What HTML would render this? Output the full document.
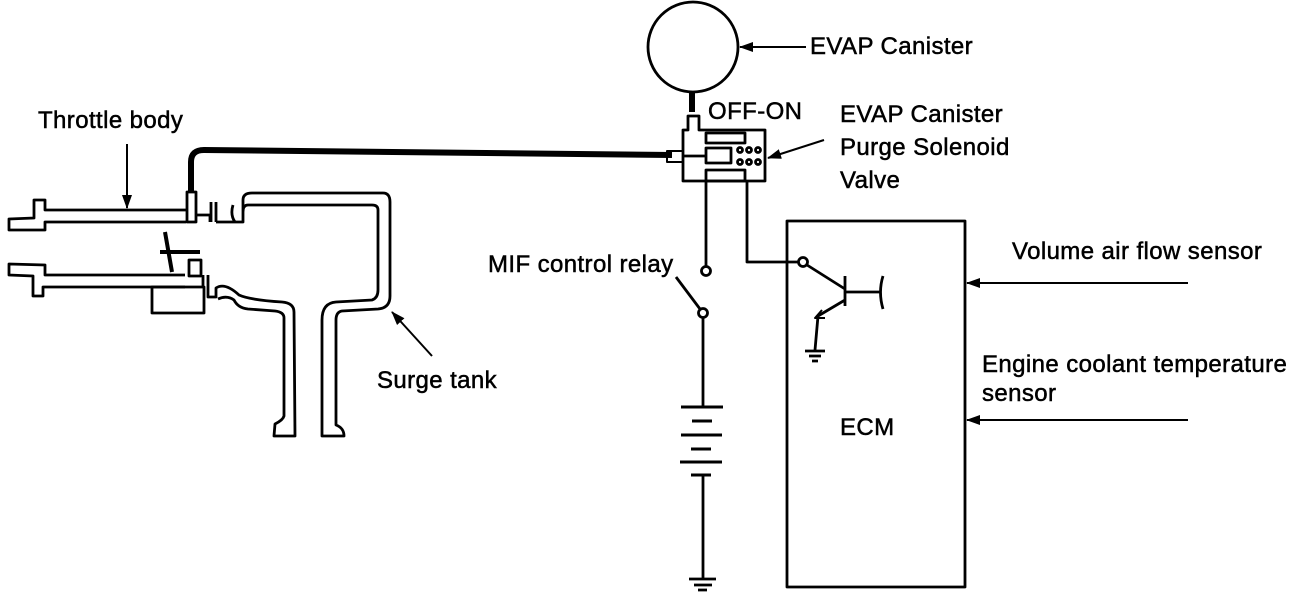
<!DOCTYPE html>
<html><head><style>
body{margin:0;background:#fff;}
svg{display:block;}
text{font-family:"Liberation Sans",sans-serif;font-size:24px;letter-spacing:0.4px;fill:#000;stroke:#000;stroke-width:0.5px;}
</style></head><body>
<svg width="1312" height="598" viewBox="0 0 1312 598" xmlns="http://www.w3.org/2000/svg">
<defs><marker id="a" markerWidth="14" markerHeight="12" refX="13" refY="6" orient="auto" markerUnits="userSpaceOnUse"><path d="M0,1 L14,6 L0,11 z" fill="#000"/></marker></defs>
<g fill="none" stroke="#000" stroke-width="2.8" stroke-linejoin="round">
<!-- upper throttle tube -->
<path d="M186,210 L45,210 L45,200 L34,200 L34,218 L9,219 L9,230 L45,230 L45,222 L186,222"/>
<!-- lower throttle tube -->
<path d="M185,275 L45,275 L45,265 L9,264 L9,275 L33,276 L33,296 L43,296 L43,287 L185,287"/>
<rect x="152" y="287" width="52" height="26"/>
<rect x="189" y="260" width="12" height="16"/>
<!-- throttle valve -->
<path d="M165,232 L172,272 M160,252 L200,252" stroke-width="4"/>
<!-- port for hose -->
<rect x="187" y="192" width="9" height="30"/>
<path d="M196,215 L210,215 L210,222 M211,202 L211,222 M216,202 L216,222"/>
<!-- surge tank -->
<path d="M216,222 L243,222 L243,200 Q243,193 252,193 L383,193 Q390,193 390,202 L390,296 Q390,308 378,309 L342,311 Q336,312 336,320 L336,425 Q344,428 344,436 L322,436 L322,320 Q322,303 336,302 L372,300 Q378,298 378,290 L378,210 Q378,205 372,205 L248,205 Q243,205 243,212 M235,222 Q230,215 233,205"/>
<path d="M203,287 L203,275 M208,275 L208,297 L216,297 L216,288 Q225,282 239,295 Q250,300 282,302 Q294,303 294,312 L295,436 L274,436 L275,424 Q283,420 284,416 L284,318 Q284,312 275,311 L248,309 Q238,308 234,300 Q227,295 218,299"/>
<!-- thick hose -->
<path d="M191,192 L191,162 Q191,150 204,150 L672,155" stroke-width="6"/>
<path d="M667,151 L683,151 L683,162 L667,162 z" stroke-width="2"/>
<!-- canister -->
<circle cx="693" cy="47" r="45"/>
<path d="M692,92 L692,112" stroke-width="6"/>
<!-- solenoid -->
<path d="M688,130 L688,116 L699,116 L699,130 L765,130 L765,181 L683,181 L683,130 z"/>
<rect x="706" y="133" width="39" height="10"/>
<rect x="706" y="170" width="39" height="11"/>
<rect x="706" y="148" width="25" height="15"/>
<path d="M683,156 L706,156"/>
<circle cx="740" cy="150" r="2.5"/><circle cx="749" cy="150" r="2.5"/><circle cx="758" cy="150" r="2.5"/>
<circle cx="740" cy="162" r="2.5"/><circle cx="749" cy="162" r="2.5"/><circle cx="758" cy="162" r="2.5"/>
<!-- relay wire -->
<path d="M706,181 L706,266"/>
<circle cx="706" cy="271" r="4.5"/>
<circle cx="703" cy="313" r="4.5"/>
<path d="M676,277 L700,309"/>
<path d="M703,318 L703,407"/>
<path d="M681,407 L723,407 M692,421 L712,421 M681,435 L722,435 M691,449 L711,449 M680,462 L722,462 M691,475 L711,475" stroke-width="3"/>
<path d="M703,475 L703,578"/>
<path d="M689,579 L716,579 M694,585 L712,585 M698,590 L707,590"/>
<!-- ECM wire -->
<path d="M747,181 L747,262 L798,262"/>
<circle cx="803" cy="262" r="4.5"/>
<path d="M807,265 L845,289 M845,276 L845,306 M845,292 L880,292 M883,276 Q878,292 883,309 M845,300 L818,316 L815,350" />
<path d="M822,310 L815,318 L825,318" stroke-width="2"/>
<path d="M805,351 L825,351 M809,356 L821,356 M812,361 L818,361"/>
<!-- ECM box -->
<rect x="787" y="221" width="178" height="366"/>
<!-- arrows -->
<path d="M127,144 L127,208" stroke-width="2" marker-end="url(#a)"/>
<path d="M806,47 L740,47" stroke-width="2" marker-end="url(#a)"/>
<path d="M824,140 L768,158" stroke-width="2" marker-end="url(#a)"/>
<path d="M432,356 L392,312" stroke-width="2" marker-end="url(#a)"/>
<path d="M1188,283 L967,283" stroke-width="2" marker-end="url(#a)"/>
<path d="M1188,420 L967,420" stroke-width="2" marker-end="url(#a)"/>
</g>
<text x="38" y="128">Throttle body</text>
<text x="810" y="54">EVAP Canister</text>
<text x="708" y="119">OFF-ON</text>
<text x="840" y="122">EVAP Canister</text>
<text x="840" y="155">Purge Solenoid</text>
<text x="840" y="188">Valve</text>
<text x="488" y="272">MIF control relay</text>
<text x="1012" y="259">Volume air flow sensor</text>
<text x="982" y="372">Engine coolant temperature</text>
<text x="982" y="401">sensor</text>
<text x="377" y="388">Surge tank</text>
<text x="840" y="435">ECM</text>
</svg>
</body></html>
